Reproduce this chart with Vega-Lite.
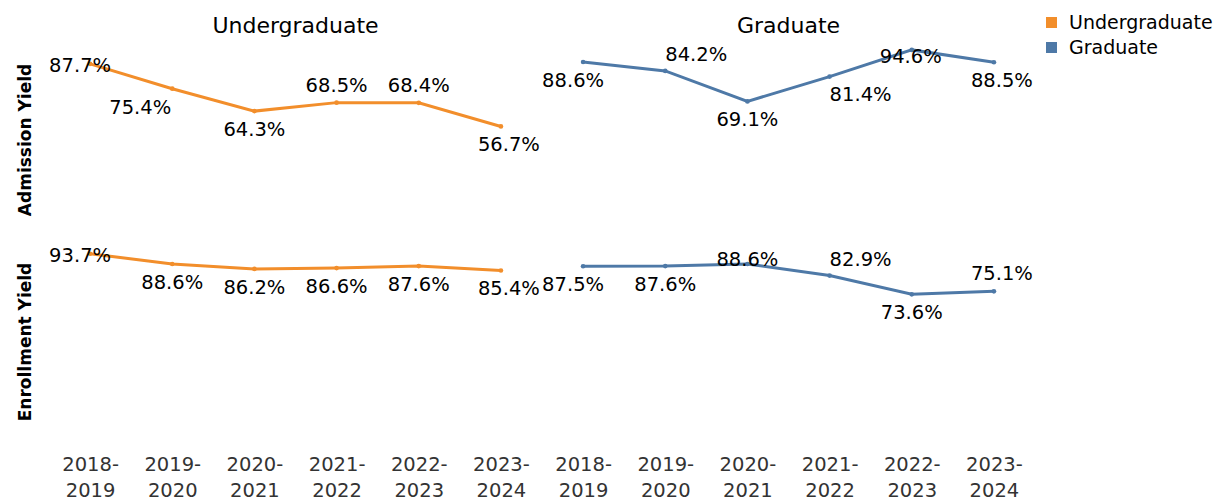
{
  "$schema": "https://vega.github.io/schema/vega-lite/v6.json",
  "padding": {"left": 16, "top": 13, "right": 5, "bottom": 0},
  "data": {"values": [
    {"program": "Undergraduate", "metric": "Admission Yield", "year": "2018-2019", "value": 0.877},
    {"program": "Undergraduate", "metric": "Admission Yield", "year": "2019-2020", "value": 0.754},
    {"program": "Undergraduate", "metric": "Admission Yield", "year": "2020-2021", "value": 0.643},
    {"program": "Undergraduate", "metric": "Admission Yield", "year": "2021-2022", "value": 0.685},
    {"program": "Undergraduate", "metric": "Admission Yield", "year": "2022-2023", "value": 0.684},
    {"program": "Undergraduate", "metric": "Admission Yield", "year": "2023-2024", "value": 0.567},
    {"program": "Graduate", "metric": "Admission Yield", "year": "2018-2019", "value": 0.886},
    {"program": "Graduate", "metric": "Admission Yield", "year": "2019-2020", "value": 0.842},
    {"program": "Graduate", "metric": "Admission Yield", "year": "2020-2021", "value": 0.691},
    {"program": "Graduate", "metric": "Admission Yield", "year": "2021-2022", "value": 0.814},
    {"program": "Graduate", "metric": "Admission Yield", "year": "2022-2023", "value": 0.946},
    {"program": "Graduate", "metric": "Admission Yield", "year": "2023-2024", "value": 0.885},
    {"program": "Undergraduate", "metric": "Enrollment Yield", "year": "2018-2019", "value": 0.937},
    {"program": "Undergraduate", "metric": "Enrollment Yield", "year": "2019-2020", "value": 0.886},
    {"program": "Undergraduate", "metric": "Enrollment Yield", "year": "2020-2021", "value": 0.862},
    {"program": "Undergraduate", "metric": "Enrollment Yield", "year": "2021-2022", "value": 0.866},
    {"program": "Undergraduate", "metric": "Enrollment Yield", "year": "2022-2023", "value": 0.876},
    {"program": "Undergraduate", "metric": "Enrollment Yield", "year": "2023-2024", "value": 0.854},
    {"program": "Graduate", "metric": "Enrollment Yield", "year": "2018-2019", "value": 0.875},
    {"program": "Graduate", "metric": "Enrollment Yield", "year": "2019-2020", "value": 0.876},
    {"program": "Graduate", "metric": "Enrollment Yield", "year": "2020-2021", "value": 0.886},
    {"program": "Graduate", "metric": "Enrollment Yield", "year": "2021-2022", "value": 0.829},
    {"program": "Graduate", "metric": "Enrollment Yield", "year": "2022-2023", "value": 0.736},
    {"program": "Graduate", "metric": "Enrollment Yield", "year": "2023-2024", "value": 0.751}
  ]},
  "facet": {
    "row": {"field": "metric", "type": "nominal", "sort": ["Admission Yield", "Enrollment Yield"], "title": null,
      "header": {"labelAngle": -90, "labelOrient": "left", "labelFontWeight": "bold", "labelFontSize": 17, "labelFont": "DejaVu Sans", "labelColor": "#000", "labelPadding": 6, "labelAlign": "center"}},
    "column": {"field": "program", "type": "nominal", "sort": ["Undergraduate", "Graduate"], "title": null,
      "header": {"labelFontSize": 22, "labelFont": "DejaVu Sans", "labelColor": "#000", "labelPadding": 1}}
  },
  "spacing": 0,
  "spec": {
    "width": 493,
    "height": 202,
    "encoding": {
      "x": {"field": "year", "type": "ordinal", "title": null,
        "axis": {"labelExpr": "[slice(datum.label,0,5), slice(datum.label,5)]", "labelAngle": 0, "ticks": false, "tickSize": 0, "domain": false, "grid": false, "labelFontSize": 19.5, "labelFont": "DejaVu Sans", "labelColor": "#333", "labelLineHeight": 26, "labelPadding": 12, "labelBaseline": "top"}},
      "y": {"field": "value", "type": "quantitative", "scale": {"domain": [0, 1]}, "axis": null},
      "color": {"field": "program", "type": "nominal", "scale": {"domain": ["Undergraduate", "Graduate"], "range": ["#F28E2B", "#4E79A7"]},
        "legend": {"title": null, "orient": "none", "legendX": 993, "legendY": -26, "symbolType": "square", "symbolSize": 90, "labelFontSize": 19, "labelFont": "DejaVu Sans", "labelColor": "#000", "rowPadding": 5, "padding": 0, "labelOffset": 8}}
    },
    "layer": [
      {"mark": {"type": "line", "strokeWidth": 3}},
      {"mark": {"type": "point", "filled": true, "size": 22, "opacity": 1}},
      {"transform": [{"filter": "indexof(['UA8','UE8'], datum.program[0]+datum.metric[0]+datum.year[3]) >= 0"}],
        "mark": {"type": "text", "fontSize": 19.5, "font": "DejaVu Sans", "baseline": "middle", "dx": -10, "dy": 2},
        "encoding": {"text": {"field": "value", "type": "quantitative", "format": ".1%"}, "color": {"value": "#000"}}},
      {"transform": [{"filter": "indexof(['UA0','GA0','UE9','UE0','UE1','UE2','GE9','GE2'], datum.program[0]+datum.metric[0]+datum.year[3]) >= 0"}],
        "mark": {"type": "text", "fontSize": 19.5, "font": "DejaVu Sans", "baseline": "middle", "dx": 0, "dy": 19},
        "encoding": {"text": {"field": "value", "type": "quantitative", "format": ".1%"}, "color": {"value": "#000"}}},
      {"transform": [{"filter": "indexof(['UA3','GA3','UE3'], datum.program[0]+datum.metric[0]+datum.year[3]) >= 0"}],
        "mark": {"type": "text", "fontSize": 19.5, "font": "DejaVu Sans", "baseline": "middle", "dx": 8, "dy": 19},
        "encoding": {"text": {"field": "value", "type": "quantitative", "format": ".1%"}, "color": {"value": "#000"}}},
      {"transform": [{"filter": "indexof(['GA8','GE8'], datum.program[0]+datum.metric[0]+datum.year[3]) >= 0"}],
        "mark": {"type": "text", "fontSize": 19.5, "font": "DejaVu Sans", "baseline": "middle", "dx": -10, "dy": 19},
        "encoding": {"text": {"field": "value", "type": "quantitative", "format": ".1%"}, "color": {"value": "#000"}}},
      {"transform": [{"filter": "indexof(['UA9'], datum.program[0]+datum.metric[0]+datum.year[3]) >= 0"}],
        "mark": {"type": "text", "fontSize": 19.5, "font": "DejaVu Sans", "baseline": "middle", "dx": -32, "dy": 19},
        "encoding": {"text": {"field": "value", "type": "quantitative", "format": ".1%"}, "color": {"value": "#000"}}},
      {"transform": [{"filter": "indexof(['GA1'], datum.program[0]+datum.metric[0]+datum.year[3]) >= 0"}],
        "mark": {"type": "text", "fontSize": 19.5, "font": "DejaVu Sans", "baseline": "middle", "dx": 31, "dy": 18},
        "encoding": {"text": {"field": "value", "type": "quantitative", "format": ".1%"}, "color": {"value": "#000"}}},
      {"transform": [{"filter": "indexof(['UA1','UA2'], datum.program[0]+datum.metric[0]+datum.year[3]) >= 0"}],
        "mark": {"type": "text", "fontSize": 19.5, "font": "DejaVu Sans", "baseline": "middle", "dx": 0, "dy": -17},
        "encoding": {"text": {"field": "value", "type": "quantitative", "format": ".1%"}, "color": {"value": "#000"}}},
      {"transform": [{"filter": "indexof(['GA9','GE1'], datum.program[0]+datum.metric[0]+datum.year[3]) >= 0"}],
        "mark": {"type": "text", "fontSize": 19.5, "font": "DejaVu Sans", "baseline": "middle", "dx": 31, "dy": -16},
        "encoding": {"text": {"field": "value", "type": "quantitative", "format": ".1%"}, "color": {"value": "#000"}}},
      {"transform": [{"filter": "indexof(['GE3'], datum.program[0]+datum.metric[0]+datum.year[3]) >= 0"}],
        "mark": {"type": "text", "fontSize": 19.5, "font": "DejaVu Sans", "baseline": "middle", "dx": 8, "dy": -17},
        "encoding": {"text": {"field": "value", "type": "quantitative", "format": ".1%"}, "color": {"value": "#000"}}},
      {"transform": [{"filter": "indexof(['GA2'], datum.program[0]+datum.metric[0]+datum.year[3]) >= 0"}],
        "mark": {"type": "text", "fontSize": 19.5, "font": "DejaVu Sans", "baseline": "middle", "dx": -1, "dy": 7},
        "encoding": {"text": {"field": "value", "type": "quantitative", "format": ".1%"}, "color": {"value": "#000"}}},
      {"transform": [{"filter": "indexof(['GE0'], datum.program[0]+datum.metric[0]+datum.year[3]) >= 0"}],
        "mark": {"type": "text", "fontSize": 19.5, "font": "DejaVu Sans", "baseline": "middle", "dx": 0, "dy": -4},
        "encoding": {"text": {"field": "value", "type": "quantitative", "format": ".1%"}, "color": {"value": "#000"}}}
    ]
  },
  "config": {"view": {"stroke": null}, "font": "DejaVu Sans"}
}
